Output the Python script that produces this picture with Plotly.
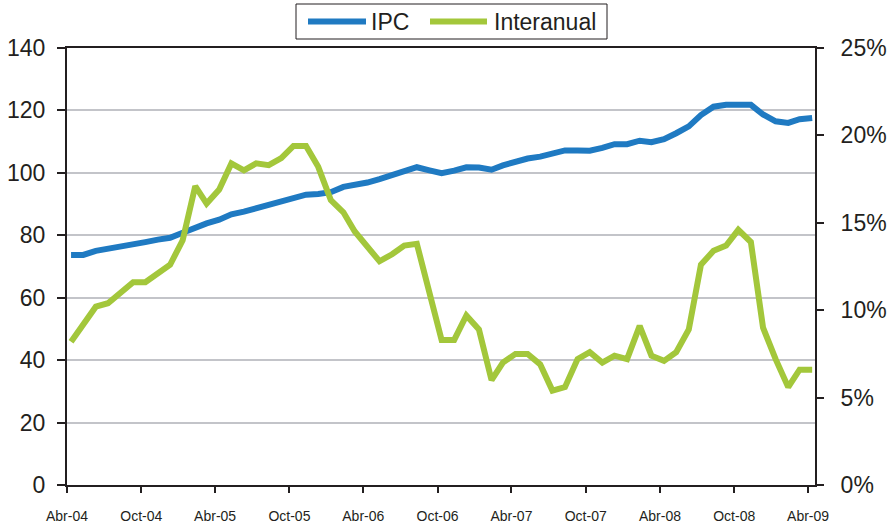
import pandas as pd
import plotly.graph_objects as go

# ---- data ----
start_month = "2004-04-01"
n_months = 61

ipc = [73.7, 73.7, 75.0, 75.6, 76.2, 76.9, 77.8, 78.6, 79.2, 80.8,
       82.6, 83.8, 85.0, 86.7, 87.6, 88.7, 89.4, 90.6, 91.8, 93.0,
       93.2, 93.8, 95.5, 96.1, 96.9, 98.0, 99.2, 100.6, 101.8, 100.8,
       99.9, 100.7, 101.8, 101.7, 101.0, 102.4, 103.6, 104.6, 105.2, 106.2,
       107.2, 107.2, 107.1, 108.0, 109.2, 109.2, 110.3, 109.8, 110.8, 112.7,
       114.9, 118.5, 121.2, 121.8, 121.8, 121.8, 118.7, 116.5, 116.0, 117.2,
       117.6]

interanual = [8.2, 9.2, 10.2, 10.4, 11.0, 11.6, 11.6, 12.1, 12.6, 14.0,
              17.1, 16.1, 16.9, 18.4, 18.0, 18.4, 18.3, 18.7, 19.4, 19.4,
              18.2, 16.3, 15.6, 14.5, 13.6, 12.8, 13.2, 13.7, 13.8, 11.1,
              8.3, 8.3, 9.7, 8.9, 6.0, 7.0, 7.5, 7.5, 6.9, 5.4,
              5.6, 7.2, 7.6, 7.0, 7.4, 7.2, 9.1, 7.4, 7.1, 7.6,
              8.9, 12.6, 13.4, 13.7, 14.6, 13.9, 9.0, 7.2, 5.6, 6.6,
              6.6]

tick_dates = ["2004-04-01", "2004-10-01", "2005-04-01", "2005-10-01",
              "2006-04-01", "2006-10-01", "2007-04-01", "2007-10-01",
              "2008-04-01", "2008-10-01", "2009-04-01"]
tick_text = ["Abr-04", "Oct-04", "Abr-05", "Oct-05", "Abr-06", "Oct-06",
             "Abr-07", "Oct-07", "Abr-08", "Oct-08", "Abr-09"]

left_ticks = [0, 20, 40, 60, 80, 100, 120, 140]
right_ticks = [0, 0.05, 0.10, 0.15, 0.20, 0.25]

series_names = ["IPC", "Interanual"]

# observation dates (monthly readings, taken ~10 days into each month)
dates = pd.date_range(start_month, periods=n_months, freq="MS") + pd.Timedelta(days=10)
interanual_frac = [v / 100 for v in interanual]

FONT = "Liberation Sans, Arial, sans-serif"
BLUE = "#1F7AC2"
GREEN = "#A3C73B"
AXIS = "#231F20"
TXT = "#231F20"

PAGE_W, PAGE_H = 892, 527
PLOT_L, PLOT_R, PLOT_T, PLOT_B = 67, 815, 48, 485   # plot area in pixels


def px(X):
    return (X - PLOT_L) / (PLOT_R - PLOT_L)


def py(Y):
    return (PLOT_B - Y) / (PLOT_B - PLOT_T)


fig = go.Figure()
fig.add_trace(go.Scatter(x=dates, y=ipc, name=series_names[0], mode="lines",
                         line=dict(color=BLUE, width=6), yaxis="y"))
fig.add_trace(go.Scatter(x=dates, y=interanual_frac, name=series_names[1], mode="lines",
                         line=dict(color=GREEN, width=6), yaxis="y2"))

# legend drawn as a boxed key above the plot
shapes = [
    dict(type="rect", xref="paper", yref="paper", x0=px(296), x1=px(607), y0=py(39), y1=py(4),
         line=dict(color=TXT, width=1), fillcolor="white", layer="above"),
    dict(type="line", xref="paper", yref="paper", x0=px(308), x1=px(366), y0=py(21.5), y1=py(21.5),
         line=dict(color=BLUE, width=6), layer="above"),
    dict(type="line", xref="paper", yref="paper", x0=px(430), x1=px(487), y0=py(21.5), y1=py(21.5),
         line=dict(color=GREEN, width=6), layer="above"),
]
annotations = [
    dict(xref="paper", yref="paper", x=px(369), y=py(22), text=series_names[0], showarrow=False,
         xanchor="left", yanchor="middle", font=dict(family=FONT, size=23, color=TXT)),
    dict(xref="paper", yref="paper", x=px(492), y=py(22), text=series_names[1], showarrow=False,
         xanchor="left", yanchor="middle", font=dict(family=FONT, size=23, color=TXT)),
]

fig.update_layout(
    width=PAGE_W, height=PAGE_H,
    margin=dict(l=PLOT_L, r=PAGE_W - PLOT_R, t=PLOT_T, b=PAGE_H - PLOT_B,
                autoexpand=False),
    paper_bgcolor="white", plot_bgcolor="white",
    font=dict(family=FONT, color=TXT),
    showlegend=False,
    shapes=shapes,
    annotations=annotations,
    xaxis=dict(type="date", range=["2004-04-01", "2009-04-18"],
               tickvals=tick_dates, ticktext=tick_text,
               ticks="outside", ticklen=6, tickwidth=1.5, tickcolor=AXIS,
               showline=True, linecolor=AXIS, linewidth=2, mirror=True,
               showgrid=False, zeroline=False, automargin=False,
               tickfont=dict(family=FONT, size=14, color=TXT),
               ticklabelstandoff=11),
    yaxis=dict(range=[0, 140], tickvals=left_ticks,
               ticks="outside", ticklen=8, tickwidth=1.5, tickcolor=AXIS,
               showline=True, linecolor=AXIS, linewidth=2,
               showgrid=True, gridcolor="#C3C4C9", gridwidth=1.5,
               zeroline=False, automargin=False,
               tickfont=dict(family=FONT, size=23, color=TXT),
               ticklabelstandoff=7),
    yaxis2=dict(range=[0, 0.25], tickvals=right_ticks, tickformat=".0%",
                overlaying="y", side="right",
                ticks="outside", ticklen=7, tickwidth=1.5, tickcolor=AXIS,
                showline=True, linecolor=AXIS, linewidth=2,
                showgrid=False, zeroline=False, automargin=False,
                tickfont=dict(family=FONT, size=23, color=TXT),
                ticklabelstandoff=12),
)

# remove the browser's default 8px body margin so the figure fills the window
fig.write_html("out.html",
               config={"displayModeBar": False},
               post_script="document.body.style.margin='0';document.body.style.overflow='hidden';")
